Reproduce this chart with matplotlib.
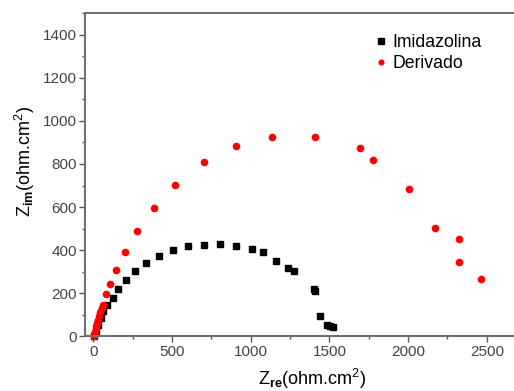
import matplotlib.pyplot as plt
from matplotlib.ticker import MultipleLocator

plt.rcParams['font.family'] = ['Liberation Sans', 'DejaVu Sans']
plt.rcParams['mathtext.fontset'] = 'custom'
plt.rcParams['mathtext.rm'] = 'Liberation Sans'
plt.rcParams['mathtext.bf'] = 'Liberation Sans:bold'

# Imidazolina (black squares)
imid_zre = [4, 17, 32, 47, 64, 85, 123, 159, 208, 265, 333, 419, 504, 604, 703,
            805, 907, 1006, 1080, 1161, 1235, 1277, 1404, 1409, 1442, 1483, 1504, 1525]
imid_zim = [3, 23, 54, 85, 116, 147, 180, 221, 262, 303, 341, 375, 400, 420, 426,
            428, 420, 406, 391, 351, 317, 304, 221, 213, 97, 51, 50, 45]

# Derivado (red circles)
deriv_zre = [2, 5, 9, 14, 19, 25, 31, 38, 45, 52, 64, 81, 108, 147, 200, 276, 386,
             521, 703, 905, 1137, 1409, 1694, 1775, 2008, 2174, 2325, 2325, 2461]
deriv_zim = [3, 10, 20, 33, 47, 62, 78, 95, 113, 131, 147, 195, 244, 307, 394, 487,
             594, 701, 807, 884, 924, 924, 873, 818, 686, 504, 452, 346, 267]

fig = plt.figure(figsize=(5.14, 3.91), dpi=100)
ax = fig.add_axes([0.1654, 0.1394, 0.8346, 0.8274])

ax.plot(imid_zre, imid_zim, 's', color='black', markersize=5, label='Imidazolina', clip_on=False)
ax.plot(deriv_zre, deriv_zim, 'o', color='red', markersize=5.5, markeredgewidth=0,
        label='Derivado', clip_on=False)

ax.set_xlim(-53, 2673)
ax.set_ylim(0, 1500)
ax.xaxis.set_major_locator(MultipleLocator(500))
ax.xaxis.set_minor_locator(MultipleLocator(250))
ax.yaxis.set_major_locator(MultipleLocator(200))
ax.yaxis.set_minor_locator(MultipleLocator(100))

for side in ['left', 'bottom', 'top']:
    ax.spines[side].set_color('#707070')
    ax.spines[side].set_linewidth(1.5)
ax.spines['right'].set_visible(False)

ax.tick_params(which='major', direction='out', length=4, width=1, color='#555555',
               labelcolor='#444444', labelsize=11, pad=2)
ax.tick_params(which='minor', direction='out', length=2.5, width=1, color='#555555')
ax.tick_params(top=False, right=False, which='both')

ax.set_xlabel(r'Z$_{\mathbf{re}}$(ohm.cm$^2$)', fontsize=13)
ax.set_ylabel(r'Z$_{\mathbf{im}}$(ohm.cm$^2$)', fontsize=13)
ax.xaxis.set_label_coords(0.53, -0.095)
ax.yaxis.set_label_coords(-0.112, 0.54)

ax.legend(loc='upper left', bbox_to_anchor=(0.63, 0.985), frameon=False, fontsize=12.7,
          handletextpad=0.1, handlelength=1.1, labelspacing=0.25, markerscale=0.8)

fig.savefig('out.png', dpi=100)
